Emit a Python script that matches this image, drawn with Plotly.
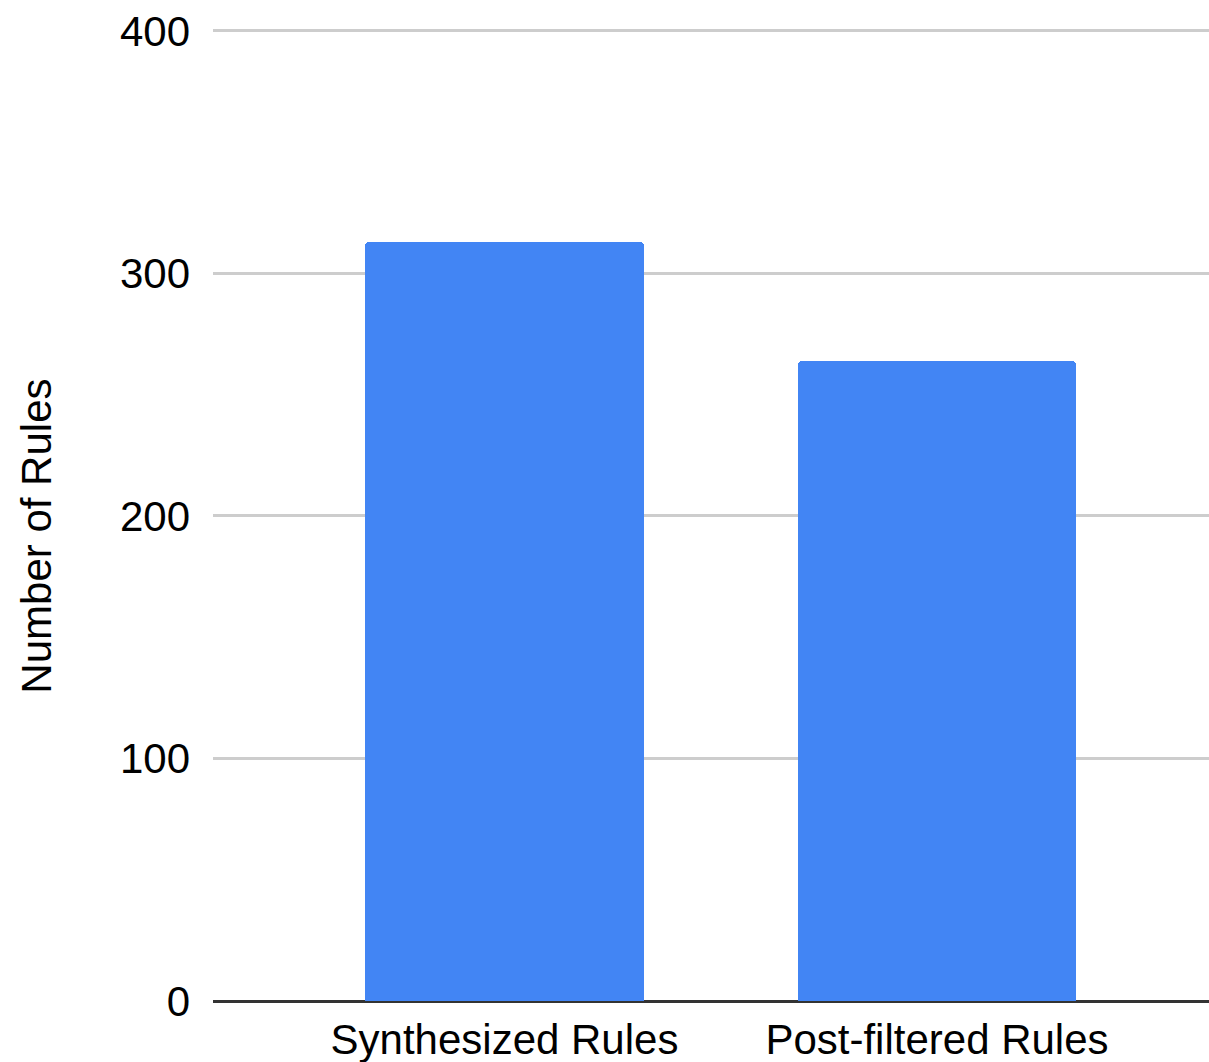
import plotly.graph_objects as go

# Rule counts before and after filtering
categories = ["Synthesized Rules", "Post-filtered Rules"]
rule_counts = [313, 264]
y_ticks = [0, 100, 200, 300, 400]

fig = go.Figure(
    go.Bar(
        x=[0, 1],
        y=rule_counts,
        width=0.645,
        marker=dict(color="#4285F4", line=dict(width=0), cornerradius=4),
    )
)

font = dict(family="Liberation Sans, Arial, sans-serif", size=42, color="#000000")

fig.update_layout(
    width=1209,
    height=1062,
    margin=dict(l=213, r=0, t=26, b=61),
    paper_bgcolor="white",
    plot_bgcolor="white",
    font=font,
    showlegend=False,
    bargap=0,
    annotations=[
        dict(
            text="Number of Rules",
            textangle=-90,
            xref="paper",
            yref="paper",
            x=-0.177,
            y=0.477,
            xanchor="center",
            yanchor="middle",
            showarrow=False,
            font=font,
        )
    ],
)

fig.update_xaxes(
    range=[-0.674, 1.629],
    tickmode="array",
    tickvals=[0, 1],
    ticktext=categories,
    showgrid=False,
    zeroline=False,
    showline=False,
    ticks="",
    tickfont=font,
    ticklabelstandoff=10,
)

fig.update_yaxes(
    range=[0, 402],
    tickmode="array",
    tickvals=y_ticks,
    showgrid=True,
    gridcolor="#cdcdcd",
    gridwidth=2.5,
    zeroline=True,
    zerolinecolor="#333333",
    zerolinewidth=3,
    showline=False,
    ticks="",
    tickfont=font,
    ticklabelstandoff=22,
)

fig.write_html("out.html")
